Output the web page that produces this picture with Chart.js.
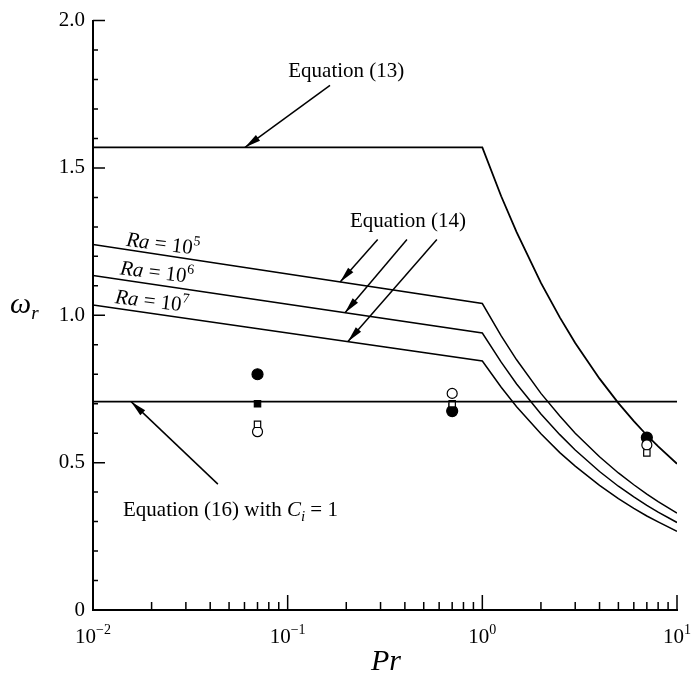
<!DOCTYPE html>
<html>
<head>
<meta charset="utf-8">
<script src="https://cdn.jsdelivr.net/npm/chart.js@4.4.1/dist/chart.umd.min.js"></script>
<style>
  html, body { margin: 0; padding: 0; background: #fff; }
</style>
</head>
<body>
<canvas id="omega" width="691" height="679"></canvas>
<script>
// Prandtl numbers shared by the theory curves
var prCurve = [0.01, 1, 1.25, 1.5, 2, 2.5, 3, 4, 5, 6, 7, 8, 10];
// Equation (13)
var eq13 = [1.57, 1.57, 1.404, 1.282, 1.110, 0.993, 0.906, 0.785, 0.702, 0.641, 0.593, 0.555, 0.496];
// Equation (14) for three Rayleigh numbers
var eq14Ra5 = [1.24, 1.04, 0.930, 0.849, 0.735, 0.658, 0.600, 0.520, 0.465, 0.425, 0.393, 0.368, 0.329];
var eq14Ra6 = [1.135, 0.94, 0.841, 0.767, 0.665, 0.595, 0.543, 0.470, 0.420, 0.384, 0.355, 0.332, 0.297];
var eq14Ra7 = [1.035, 0.845, 0.756, 0.690, 0.598, 0.534, 0.488, 0.423, 0.378, 0.345, 0.319, 0.299, 0.267];
// Equation (16) with Ci = 1
var prFlat = [0.01, 10];
var eq16 = [0.707, 0.707];

// numerical results
var prSim = [0.07, 0.7, 7];
var simFilledCircle = [0.80, 0.675, 0.585];
var simFilledSquare = [0.70, 0.69, 0.567];
var simOpenSquare = [0.63, 0.70, 0.533];
var simOpenCircle = [0.605, 0.735, 0.56];

var yTicks = [0, 0.5, 1.0, 1.5, 2.0];
var xDecades = [-2, -1, 0, 1];

var SERIF = '"Liberation Serif", "DejaVu Serif", serif';

function pairs(xs, ys) {
  var out = [];
  for (var i = 0; i < xs.length; i++) out.push({ x: xs[i], y: ys[i] });
  return out;
}

function curve(xs, ys, w) {
  return {
    type: 'line', data: pairs(xs, ys), showLine: true, borderColor: '#000',
    borderWidth: w, pointRadius: 0, fill: false, tension: 0
  };
}

function markers(ys, style, fillColor, r) {
  return {
    type: 'scatter', data: pairs(prSim, ys), pointStyle: style, pointRadius: r,
    backgroundColor: fillColor, borderColor: '#000', borderWidth: 1.2
  };
}

// pieces of text: [string, font, baseline shift]
function drawRuns(ctx, runs, x, y, align) {
  var total = 0;
  runs.forEach(function (r) { ctx.font = r[1]; total += ctx.measureText(r[0]).width; });
  var cx = align === 'center' ? x - total / 2 : x;
  ctx.textBaseline = 'alphabetic';
  ctx.textAlign = 'left';
  runs.forEach(function (r) {
    ctx.font = r[1];
    ctx.fillText(r[0], cx, y + (r[2] || 0));
    cx += ctx.measureText(r[0]).width;
  });
}

function arrow(ctx, x0, y0, x1, y1) {
  ctx.beginPath();
  ctx.moveTo(x0, y0);
  ctx.lineTo(x1, y1);
  ctx.lineWidth = 1.5;
  ctx.stroke();
  var a = Math.atan2(y1 - y0, x1 - x0);
  var len = 16, half = 3.5;
  ctx.beginPath();
  ctx.moveTo(x1, y1);
  ctx.lineTo(x1 - len * Math.cos(a) + half * Math.sin(a), y1 - len * Math.sin(a) - half * Math.cos(a));
  ctx.lineTo(x1 - len * Math.cos(a) - half * Math.sin(a), y1 - len * Math.sin(a) + half * Math.cos(a));
  ctx.closePath();
  ctx.fill();
}

var decor = {
  id: 'decor',
  afterDraw: function (chart) {
    var ctx = chart.ctx, xs = chart.scales.x, ys = chart.scales.y, area = chart.chartArea;
    var X = function (v) { return xs.getPixelForValue(v); };
    var Y = function (v) { return ys.getPixelForValue(v); };
    ctx.save();
    ctx.fillStyle = '#000';
    ctx.strokeStyle = '#000';

    // inward tick marks
    ctx.lineWidth = 1.5;
    ctx.beginPath();
    for (var k = 0; k <= 20; k++) {
      var yy = Y(k / 10), l = (k % 5 === 0) ? 12 : 5;
      ctx.moveTo(area.left, yy); ctx.lineTo(area.left + l, yy);
    }
    xDecades.forEach(function (d) {
      for (var m = 1; m <= 9; m++) {
        if (d === 1 && m > 1) break;
        var xx = X(m * Math.pow(10, d)), l = (m === 1) ? 15 : 8;
        ctx.moveTo(xx, area.bottom); ctx.lineTo(xx, area.bottom - l);
      }
    });
    ctx.stroke();

    // decade labels
    xDecades.forEach(function (d) {
      var exp = d < 0 ? '\u2212' + (-d) : String(d);
      drawRuns(ctx, [['10', '21px ' + SERIF, 0], [exp, '14px ' + SERIF, -9]], X(Math.pow(10, d)), area.bottom + 33, 'center');
    });

    // axis titles
    drawRuns(ctx, [['Pr', 'italic 30px ' + SERIF, 0]], (area.left + area.right) / 2 + 1, 670, 'center');
    drawRuns(ctx, [['\u03c9', 'italic 30px ' + SERIF, 0], ['r', 'italic 19px ' + SERIF, 6]], 10, 313, 'left');

    // curve annotations
    var f = '21px ' + SERIF, fi = 'italic 21px ' + SERIF, fs = '14px ' + SERIF;
    drawRuns(ctx, [['Equation (13)', f, 0]], X(0.2), Y(1.81), 'center');
    arrow(ctx, X(0.165), Y(1.78), X(0.0604), Y(1.57));

    drawRuns(ctx, [['Equation (14)', f, 0]], X(0.415), Y(1.30), 'center');
    arrow(ctx, X(0.29), Y(1.257), X(0.186), Y(1.113));
    arrow(ctx, X(0.41), Y(1.257), X(0.197), Y(1.009));
    arrow(ctx, X(0.584), Y(1.257), X(0.204), Y(0.911));

    [['5', 0.0229, 1.244], ['6', 0.0213, 1.148], ['7', 0.0201, 1.050]].forEach(function (lab) {
      ctx.save();
      ctx.translate(X(lab[1]), Y(lab[2]));
      ctx.rotate(7 * Math.PI / 180);
      drawRuns(ctx, [['Ra', fi, 0], [' = 10', f, 0], [lab[0], fs, -9]], 0, 7, 'center');
      ctx.restore();
    });

    drawRuns(ctx, [['Equation (16) with ', f, 0], ['C', fi, 0], ['i', 'italic 15px ' + SERIF, 5], [' = 1', f, 0]],
      X(0.01426), Y(0.343) + 7, 'left');
    arrow(ctx, X(0.0438), Y(0.427), X(0.0157), Y(0.707));

    ctx.restore();
  }
};

var ctx = document.getElementById('omega').getContext('2d');
new Chart(ctx, {
  type: 'scatter',
  data: {
    datasets: [
      curve(prCurve, eq13, 1.8),
      curve(prCurve, eq14Ra5, 1.5),
      curve(prCurve, eq14Ra6, 1.5),
      curve(prCurve, eq14Ra7, 1.5),
      curve(prFlat, eq16, 1.8),
      markers(simOpenSquare, 'rect', '#fff', 4.5),
      markers(simOpenCircle, 'circle', '#fff', 5),
      markers(simFilledCircle, 'circle', '#000', 5.5),
      markers(simFilledSquare, 'rect', '#000', 4.5)
    ]
  },
  options: {
    responsive: false,
    animation: false,
    layout: { padding: { top: 15, right: 14, left: 0, bottom: 0 } },
    plugins: { legend: { display: false }, tooltip: { enabled: false } },
    scales: {
      x: {
        type: 'logarithmic', min: 0.01, max: 10,
        grid: { display: false, drawTicks: false },
        border: { display: true, color: '#000', width: 2 },
        ticks: { display: false },
        afterFit: function (s) { s.height = 69; }
      },
      y: {
        min: 0, max: 2,
        grid: { display: false, drawTicks: false },
        border: { display: true, color: '#000', width: 2 },
        afterBuildTicks: function (s) { s.ticks = yTicks.map(function (v) { return { value: v }; }); },
        ticks: {
          color: '#000', padding: 8,
          font: { family: SERIF, size: 21 },
          callback: function (v) { return v === 0 ? '0' : v.toFixed(1); }
        },
        afterFit: function (s) { s.width = 93; }
      }
    }
  },
  plugins: [decor]
});
</script>
</body>
</html>
